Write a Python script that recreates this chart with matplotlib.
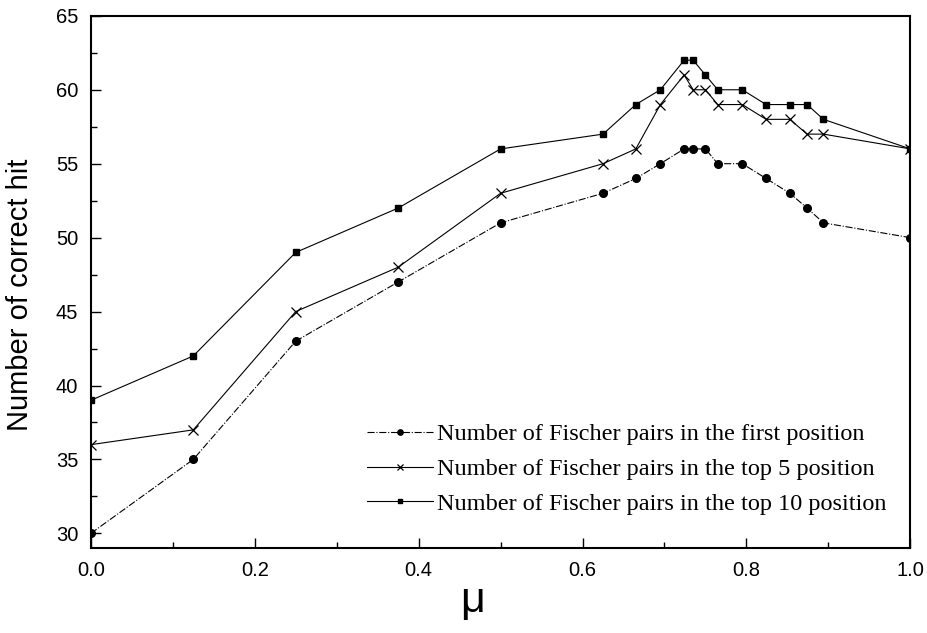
import numpy as np
import matplotlib
matplotlib.use("Agg")
import matplotlib.pyplot as plt
from matplotlib.ticker import MultipleLocator

# values
mu = [0.0, 0.125, 0.25, 0.375, 0.5, 0.625, 0.665, 0.695, 0.724, 0.735,
      0.75, 0.765, 0.795, 0.824, 0.853, 0.874, 0.894, 1.0]
hits_first = [30, 35, 43, 47, 51, 53, 54, 55, 56, 56, 56, 55, 55, 54, 53, 52, 51, 50]
hits_top5 = [36, 37, 45, 48, 53, 55, 56, 59, 61, 60, 60, 59, 59, 58, 58, 57, 57, 56]
hits_top10 = [39, 42, 49, 52, 56, 57, 59, 60, 62, 62, 61, 60, 60, 59, 59, 59, 58, 56]

labels = ["Number of Fischer pairs in the first position",
          "Number of Fischer pairs in the top 5 position",
          "Number of Fischer pairs in the top 10 position"]

plt.rcParams['font.family'] = ['Liberation Sans', 'DejaVu Sans']

fig = plt.figure(figsize=(9.27, 6.33), dpi=100)
ax = fig.add_axes([0.098, 0.134, 0.884, 0.841])

ax.plot(mu, hits_first, color="black", linestyle="-.", linewidth=0.8,
        marker="o", markersize=5.5, label=labels[0])
ax.plot(mu, hits_top5, color="black", linestyle="-", linewidth=0.8,
        marker="x", markersize=7, markeredgewidth=0.9, label=labels[1])
ax.plot(mu, hits_top10, color="black", linestyle="-", linewidth=0.8,
        marker="s", markersize=5, label=labels[2])

ax.set_xlim(0, 1.0)
ax.set_ylim(29, 65)
ax.xaxis.set_major_locator(MultipleLocator(0.2))
ax.xaxis.set_minor_locator(MultipleLocator(0.1))
ax.yaxis.set_major_locator(MultipleLocator(5))
ax.yaxis.set_minor_locator(MultipleLocator(2.5))
ax.xaxis.set_major_formatter(matplotlib.ticker.FormatStrFormatter("%.1f"))

ax.tick_params(which="both", direction="in", labelsize=14.5, pad=9)
ax.tick_params(which="major", length=7, width=1.0)
ax.tick_params(which="minor", length=4, width=1.0)
for s in ax.spines.values():
    s.set_linewidth(1.5)

ax.set_ylabel("Number of correct hit", fontsize=21, va="center")
ax.yaxis.set_label_coords(-0.086, 0.476)
ax.set_xlabel("μ", fontsize=31, va="center")
ax.xaxis.set_label_coords(0.466, -0.1)

leg = ax.legend(loc="upper left", bbox_to_anchor=(0.325, 0.2525), frameon=False,
                prop={"family": "Liberation Serif", "size": 17.5},
                handlelength=2.7, handletextpad=0.2, labelspacing=0.52,
                markerscale=0.7, borderaxespad=0)

fig.savefig("out.png", dpi=100)
